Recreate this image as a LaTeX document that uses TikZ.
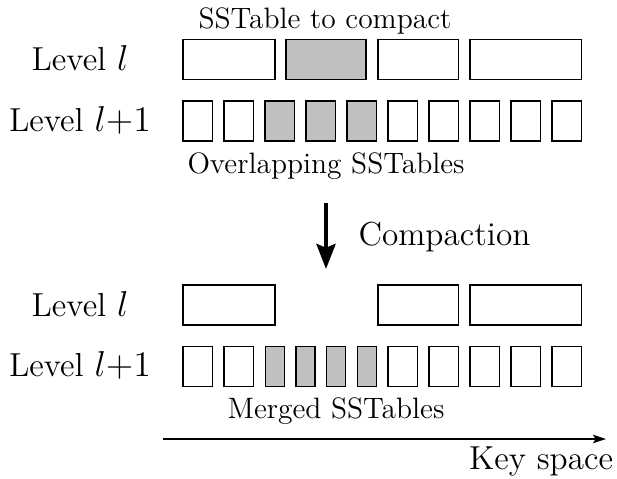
\documentclass[tikz,border=0pt]{standalone}
\usetikzlibrary{arrows.meta}
\definecolor{boxgray}{RGB}{192,192,192}
\begin{document}
\begin{tikzpicture}[x=0.4pt,y=-0.4pt,
  box/.style={draw, line width=0.6pt, inner sep=0pt, outer sep=0pt, minimum height=16pt},
  filled/.style={box, fill=boxgray},
  small/.style={minimum width=11.8pt},
  thin/.style={minimum width=7.6pt},
  bigfont/.style={font=\fontsize{13.3}{15}\selectfont, inner sep=0pt},
  smallfont/.style={font=\fontsize{11.8}{13.5}\selectfont, inner sep=0pt}]
\useasboundingbox (0,0) rectangle (617,478);

% ---- top: level l
\node[box, minimum width=36.76pt] (t1) at (229,59.5) {};
\node[filled, minimum width=32.08pt] (t2) at (325.9,59.5) {};
\node[box, minimum width=32.2pt] (t3) at (418.3,59.5) {};
\node[box, minimum width=44.6pt] (t4) at (525.8,59.5) {};
% ---- top: level l+1
\foreach \i/\x in {1/197.5,2/238.5,6/402.5,7/443.5,8/484.5,9/525.5,10/566.5}
  \node[box, small] (u\i) at (\x,120.9) {};
\foreach \i/\x in {3/279.5,4/320.5,5/361.5}
  \node[filled, small] (u\i) at (\x,120.9) {};

% ---- bottom: level l
\node[box, minimum width=36.76pt] (b1) at (229,305) {};
\node[box, minimum width=32.2pt] (b3) at (418.3,305) {};
\node[box, minimum width=44.6pt] (b4) at (525.8,305) {};
% ---- bottom: level l+1
\foreach \i/\x in {1/197.5,2/238.5,7/402.5,8/443.5,9/484.5,10/525.5,11/566.5}
  \node[box, small] (m\i) at (\x,366.7) {};
\foreach \i/\x in {3/274.8,4/305.5,5/336.2,6/366.9}
  \node[filled, thin] (m\i) at (\x,366.7) {};

% ---- labels
\node[smallfont, anchor=base] (lab1) at (325,29) {SSTable to compact};
\node[bigfont, anchor=base] (lvA) at (80,70.7) {Level $l$};
\node[bigfont, anchor=base] (lvB) at (80,131.7) {Level $l{+}1$};
\node[smallfont, anchor=base] (lab2) at (326,173.3) {Overlapping SSTables};
\node[bigfont, anchor=base west] (lab3) at (358,245) {Compaction};
\node[bigfont, anchor=base] (lvC) at (80,316) {Level $l$};
\node[bigfont, anchor=base] (lvD) at (80,376.7) {Level $l{+}1$};
\node[smallfont, anchor=base] (lab4) at (336,418.3) {Merged SSTables};
\node[bigfont, anchor=base] (lab5) at (541,469) {Key space};

% ---- arrows
\coordinate (c1) at (326,203);
\coordinate (c2) at (326,269);
\draw[line width=1.6pt, -{Stealth[length=10pt,width=7.6pt,inset=1.5pt]}] (c1) -- (c2);
\coordinate (k1) at (163,439);
\coordinate (k2) at (606,439);
\draw[line width=0.5pt, -{Stealth[length=5.2pt,width=3.4pt,inset=1pt]}] (k1) -- (k2);
\end{tikzpicture}
\end{document}
